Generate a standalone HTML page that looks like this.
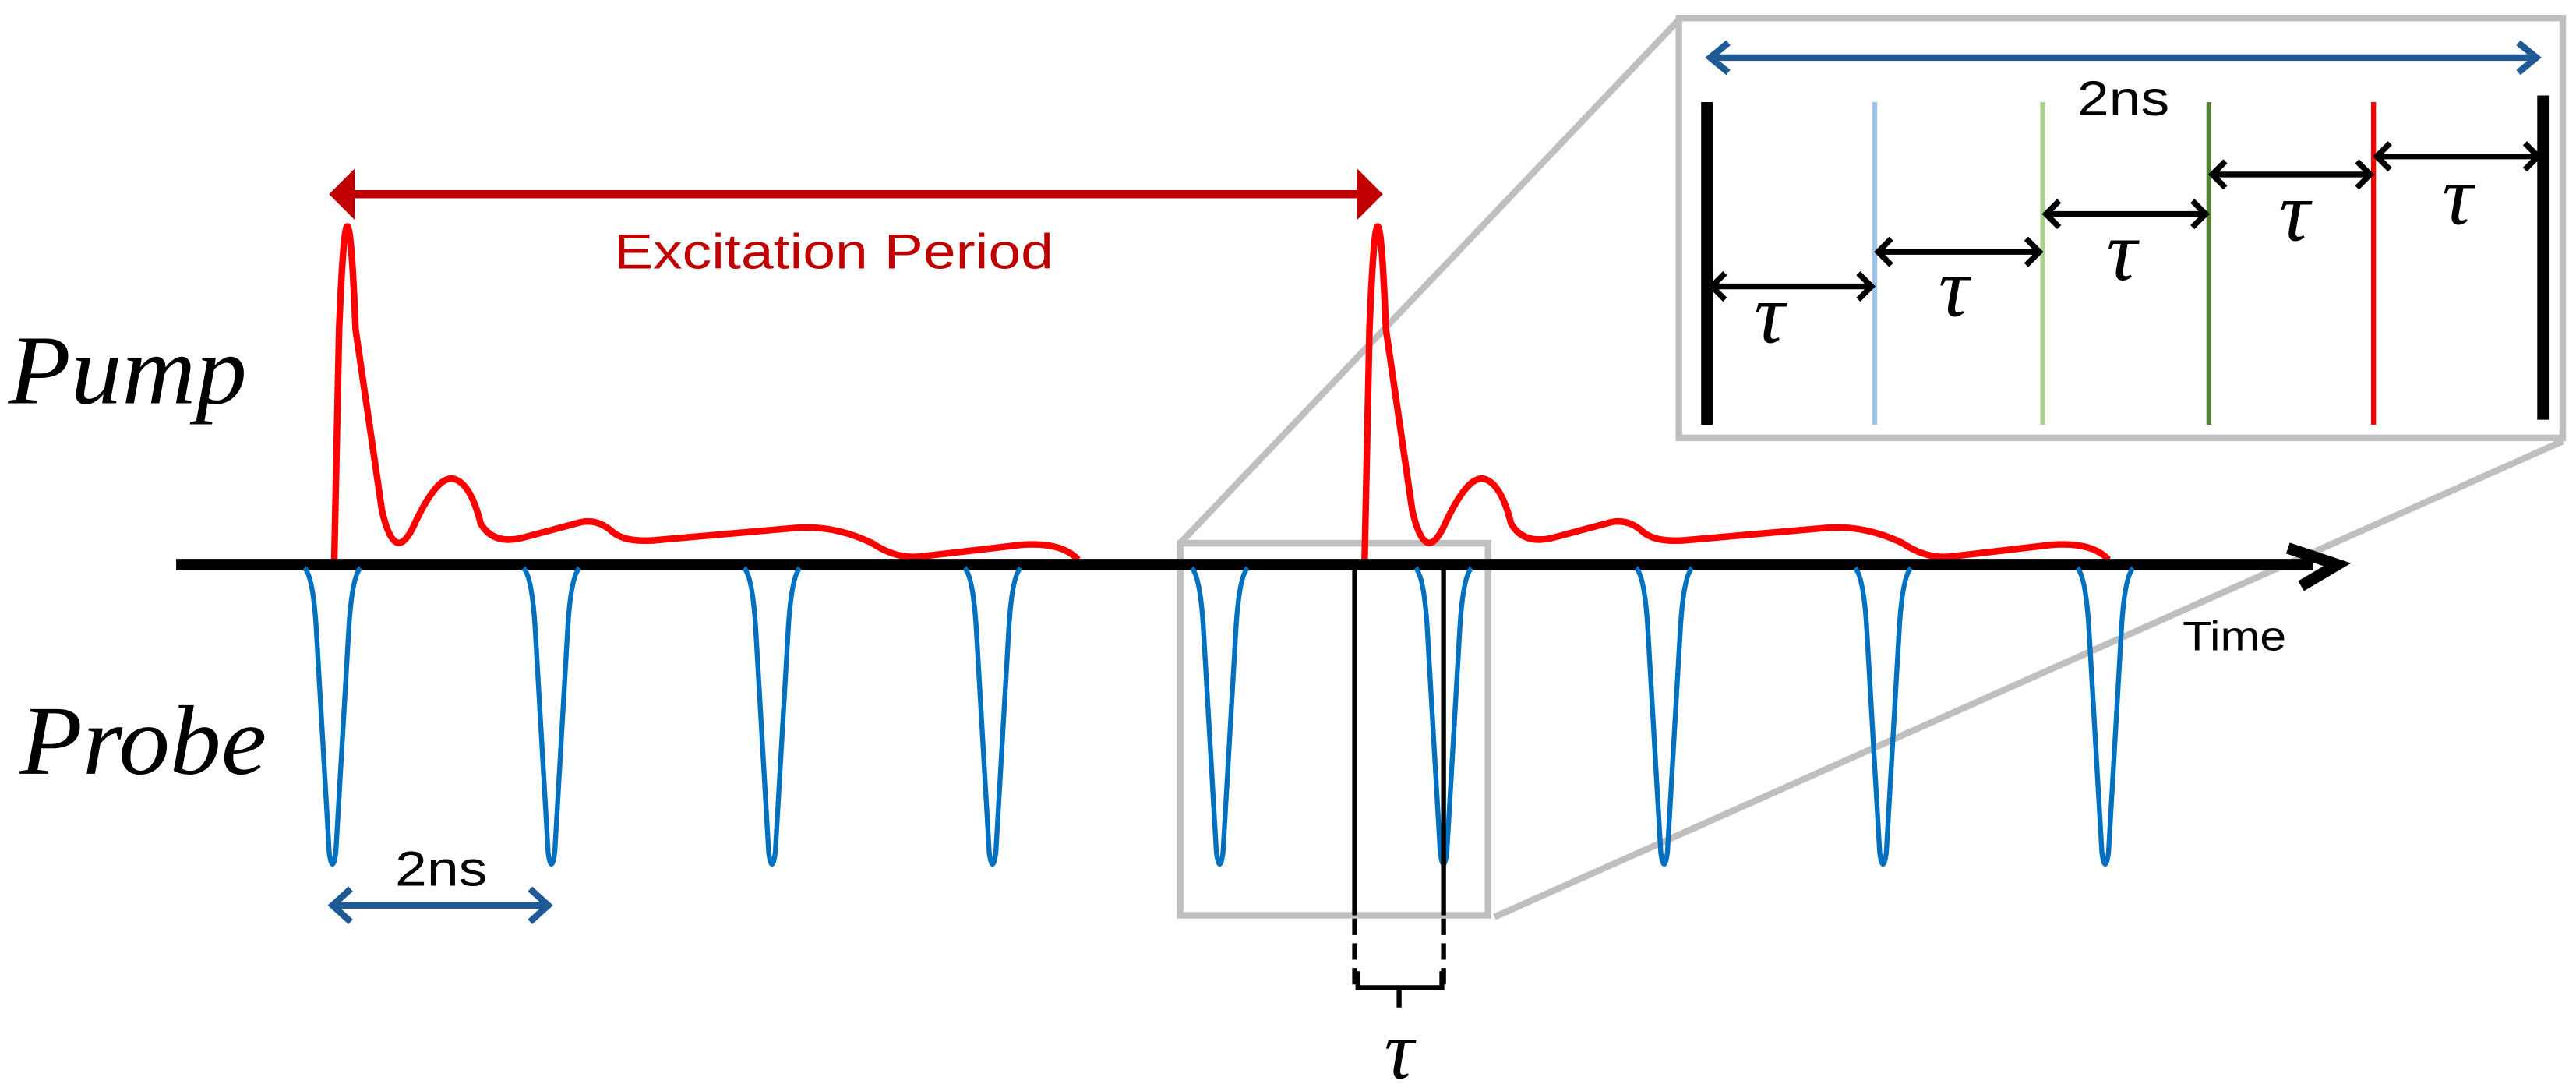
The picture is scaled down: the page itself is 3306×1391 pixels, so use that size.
<!DOCTYPE html>
<html><head><meta charset="utf-8"><style>
html,body{margin:0;padding:0;background:#fff;}
svg{display:block;}
.sans{font-family:"Liberation Sans",sans-serif;}
.it{font-family:"Liberation Serif",serif;font-style:italic;}
</style></head><body>
<svg width="3306" height="1391" viewBox="0 0 1565 658.5" xmlns="http://www.w3.org/2000/svg">
<defs>
<g id="pp"><path d="M-17,345 Q-12,350 -10,380 L-2,518 Q0,532 2,518 L10,380 Q12,350 17,345" fill="none" stroke="#0070c0" stroke-width="3"/></g>
<path id="pump" d="M203,343 L206,200 Q211,75 216,200 L232,310 Q240,345 252,318 Q266,288 276,291 Q286,294 292,318 Q300,332 320,326 L350,318 Q362,314 372,323 Q380,330 400,328 L480,321 Q505,318 530,330 Q545,340 560,338 L620,331 Q645,329 655,340" fill="none" stroke="#ff0000" stroke-width="4"/>
</defs>
<rect x="717" y="330" width="187" height="226" fill="none" stroke="#bfbfbf" stroke-width="4"/>
<line x1="717" y1="330" x2="1020" y2="12" stroke="#bfbfbf" stroke-width="4"/>
<line x1="908" y1="557" x2="1557" y2="268" stroke="#bfbfbf" stroke-width="4"/>
<use href="#pump"/>
<use href="#pump" transform="translate(626,0)"/>
<line x1="107" y1="343" x2="1405" y2="343" stroke="#000" stroke-width="7"/>
<path d="M1390,333 L1420,343 L1398,356" fill="none" stroke="#000" stroke-width="7"/>
<use href="#pp" x="202"/><use href="#pp" x="335"/><use href="#pp" x="469"/><use href="#pp" x="603"/>
<use href="#pp" x="741"/><use href="#pp" x="877"/><use href="#pp" x="1011"/><use href="#pp" x="1144"/><use href="#pp" x="1279"/>
<line x1="823" y1="343" x2="823" y2="556" stroke="#000" stroke-width="3"/>
<line x1="877" y1="343" x2="877" y2="556" stroke="#000" stroke-width="3"/>
<path d="M823,558 V600 M877,558 V600" stroke="#000" stroke-width="3" stroke-dasharray="10,5"/>
<path d="M825,590 V600 H850 V612 M850,600 H876 V590" fill="none" stroke="#000" stroke-width="3"/>
<text x="850" y="655" class="it" font-size="50" text-anchor="middle">τ</text>
<line x1="212" y1="118" x2="828" y2="118" stroke="#c00000" stroke-width="5"/>
<path d="M214,106 L202,118 L214,130 Z M826,106 L838,118 L826,130 Z" fill="#c00000" stroke="#c00000" stroke-width="3"/>
<text x="373" y="163" class="sans" font-size="30" fill="#c00000" textLength="267" lengthAdjust="spacingAndGlyphs">Excitation Period</text>
<text x="5" y="245" class="it" font-size="60" textLength="145" lengthAdjust="spacingAndGlyphs">Pump</text>
<text x="12" y="470" class="it" font-size="60" textLength="150" lengthAdjust="spacingAndGlyphs">Probe</text>
<text x="1326" y="395" class="sans" font-size="25" textLength="63" lengthAdjust="spacingAndGlyphs">Time</text>
<text x="240" y="538" class="sans" font-size="30" textLength="56" lengthAdjust="spacingAndGlyphs">2ns</text>
<line x1="203" y1="550" x2="332" y2="550" stroke="#1f5a96" stroke-width="4"/>
<path d="M213,540 L202,550 L213,560 M322,540 L333,550 L322,560" fill="none" stroke="#1f5a96" stroke-width="4"/>
<rect x="1020" y="11" width="537" height="255" fill="#fff" stroke="#bfbfbf" stroke-width="4"/>
<line x1="1040" y1="35" x2="1540" y2="35" stroke="#1f5a96" stroke-width="4"/>
<path d="M1050,26 L1039,35 L1050,44 M1530,26 L1541,35 L1530,44" fill="none" stroke="#1f5a96" stroke-width="4"/>
<text x="1262" y="70" class="sans" font-size="30" textLength="56" lengthAdjust="spacingAndGlyphs">2ns</text>
<line x1="1037" y1="62" x2="1037" y2="258" stroke="#000" stroke-width="7"/>
<line x1="1545" y1="58" x2="1545" y2="255" stroke="#000" stroke-width="7"/>
<line x1="1139" y1="62" x2="1139" y2="258" stroke="#9dc3e6" stroke-width="3"/>
<line x1="1241" y1="62" x2="1241" y2="258" stroke="#a9d18e" stroke-width="3"/>
<line x1="1342" y1="62" x2="1342" y2="258" stroke="#548235" stroke-width="3"/>
<line x1="1442" y1="62" x2="1442" y2="258" stroke="#ff0000" stroke-width="3"/>
<g fill="none" stroke="#000" stroke-width="3.5">
<path d="M1040,174 H1137 M1048,166 L1040,174 L1048,182 M1129,166 L1137,174 L1129,182"/>
<path d="M1141,153 H1239 M1149,145 L1141,153 L1149,161 M1231,145 L1239,153 L1231,161"/>
<path d="M1243,130 H1340 M1251,122 L1243,130 L1251,138 M1332,122 L1340,130 L1332,138"/>
<path d="M1344,106 H1440 M1352,98 L1344,106 L1352,114 M1432,98 L1440,106 L1432,114"/>
<path d="M1444,95 H1542 M1452,87 L1444,95 L1452,103 M1534,87 L1542,95 L1534,103"/>
</g>
<g class="it" font-size="52" text-anchor="middle">
<text x="1075" y="208">τ</text>
<text x="1187" y="192">τ</text>
<text x="1289" y="170">τ</text>
<text x="1394" y="146">τ</text>
<text x="1493" y="136">τ</text>
</g>
</svg>
</body></html>
